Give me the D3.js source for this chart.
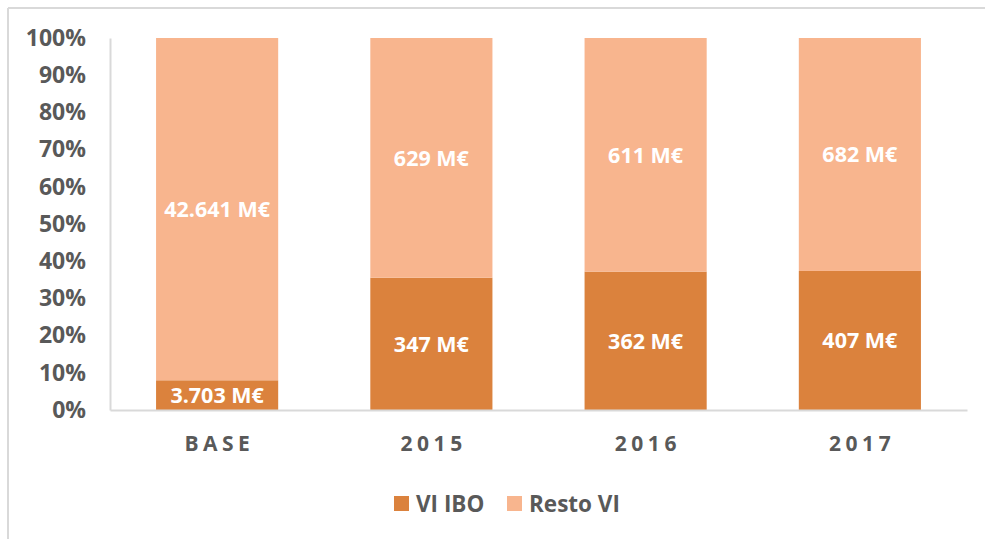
<!DOCTYPE html>
<html><head><meta charset="utf-8">
<script src="https://cdn.jsdelivr.net/npm/d3@7"></script>
<style>
html,body{margin:0;padding:0;background:#fff;}
svg{display:block;font-family:"Open Sans",sans-serif;}
</style></head>
<body>
<svg id="chart" width="985" height="539"></svg>
<script>
const categories = ["BASE","2015","2016","2017"];
const viIbo = [3703, 347, 362, 407];
const restoVi = [42641, 629, 611, 682];
const labelsIbo = ["3.703 M€","347 M€","362 M€","407 M€"];
const labelsResto = ["42.641 M€","629 M€","611 M€","682 M€"];
const seriesNames = ["VI IBO","Resto VI"];
const seriesColors = ["#DB823D","#F8B58E"];
const yTicks = [0,0.1,0.2,0.3,0.4,0.5,0.6,0.7,0.8,0.9,1];

const svg = d3.select("#chart");
const W = 985, H = 539;
const m = {left:110, right:18, top:38, bottom:129};

// outer frame (top & left visible)
svg.append("line").attr("x1",8).attr("x2",W).attr("y1",8).attr("y2",8).attr("stroke","#d9d9d9").attr("stroke-width",2);
svg.append("line").attr("x1",8).attr("x2",8).attr("y1",8).attr("y2",H).attr("stroke","#d9d9d9").attr("stroke-width",2);

const x = d3.scaleBand().domain(categories).range([m.left, W-m.right]).paddingInner(0.43).paddingOuter(0.215);
const y = d3.scaleLinear().domain([0,1]).range([H-m.bottom, m.top]);

const rows = categories.map((c,i)=>({cat:c, ibo:viIbo[i], resto:restoVi[i], li:labelsIbo[i], lr:labelsResto[i]}));
const stack = d3.stack().keys(["ibo","resto"]).offset(d3.stackOffsetExpand);
const stacked = stack(rows);

const g = svg.append("g");
stacked.forEach((s,si)=>{
  g.selectAll(null).data(s).enter().append("rect")
    .attr("x", d=>x(d.data.cat))
    .attr("width", x.bandwidth())
    .attr("y", d=>y(d[1]))
    .attr("height", d=>y(d[0])-y(d[1]))
    .attr("fill", seriesColors[si]);
  g.selectAll(null).data(s).enter().append("text")
    .attr("x", d=>x(d.data.cat)+x.bandwidth()/2)
    .attr("y", d=>(y(d[0])+y(d[1]))/2)
    .attr("dy","0.36em")
    .attr("text-anchor","middle")
    .attr("fill","#fff")
    .attr("font-weight","bold")
    .attr("font-size","21.5px")
    .text(d=> si===0 ? d.data.li : d.data.lr);
});

// y axis
const ya = svg.append("g").attr("transform",`translate(${m.left},0)`)
  .call(d3.axisLeft(y).tickValues(yTicks).tickFormat(d3.format(".0%")).tickSize(0).tickPadding(24));
ya.select(".domain").attr("stroke","#d9d9d9").attr("stroke-width",2);
ya.selectAll("text").attr("fill","#595959").attr("font-size","23px").attr("font-weight","bold").attr("font-family","Open Sans");

// x axis
const xa = svg.append("g").attr("transform",`translate(0,${H-m.bottom})`)
  .call(d3.axisBottom(x).tickSize(0).tickPadding(26));
xa.select(".domain").attr("stroke","#d9d9d9").attr("stroke-width",2);
xa.selectAll("text").attr("fill","#595959").attr("font-size","21px").attr("font-weight","bold")
  .attr("font-family","Open Sans").attr("letter-spacing","4.5px").attr("dx","2.25px");

// legend
const legX = [394, 507];
const lg = svg.append("g");
seriesNames.forEach((n,i)=>{
  lg.append("rect").attr("x",legX[i]).attr("y",496).attr("width",15).attr("height",15).attr("fill",seriesColors[i]);
  lg.append("text").attr("x",legX[i]+22).attr("y",503.5).attr("dy","0.36em")
    .attr("fill","#595959").attr("font-size","22.5px").attr("font-weight","bold").text(n);
});
</script>
</body></html>
